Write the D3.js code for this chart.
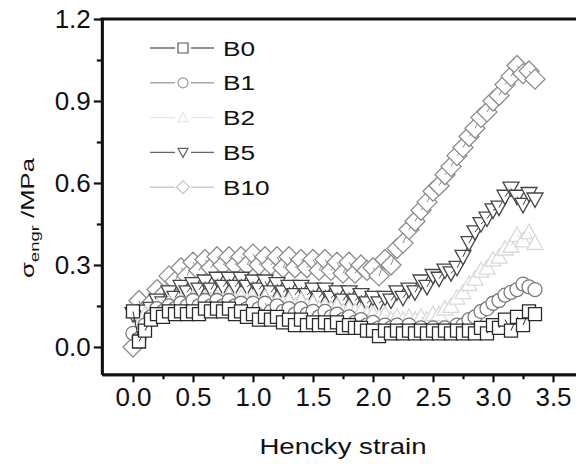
<!DOCTYPE html>
<html><head><meta charset="utf-8">
<script src="https://cdn.jsdelivr.net/npm/d3@7"></script>
<style>body{margin:0;background:#fff}svg{display:block}text{font-family:"Liberation Sans",Arial,sans-serif}</style>
</head><body><svg id="c" width="576" height="464"></svg>
<script>
const strain = [0.00,0.05,0.10,0.15,0.20,0.25,0.30,0.35,0.40,0.45,0.50,0.55,0.60,0.65,0.70,0.75,0.80,0.85,0.90,0.95,
1.00,1.05,1.10,1.15,1.20,1.25,1.30,1.35,1.40,1.45,1.50,1.55,1.60,1.65,1.70,1.75,1.80,1.85,1.90,1.95,
2.00,2.05,2.10,2.15,2.20,2.25,2.30,2.35,2.40,2.45,2.50,2.55,2.60,2.65,2.70,2.75,2.80,2.85,2.90,2.95,
3.00,3.05,3.10,3.15,3.20,3.25,3.30,3.35];
const B0 = [0.13,0.02,0.06,0.10,0.12,0.11,0.13,0.12,0.13,0.12,0.13,0.12,0.14,0.13,0.14,0.13,0.14,0.12,0.13,0.11,
0.12,0.10,0.11,0.10,0.11,0.09,0.10,0.08,0.10,0.08,0.09,0.08,0.09,0.08,0.09,0.07,0.08,0.07,0.07,0.06,
0.06,0.04,0.06,0.05,0.06,0.05,0.06,0.05,0.06,0.05,0.06,0.05,0.06,0.05,0.06,0.05,0.06,0.05,0.07,0.05,
0.08,0.07,0.10,0.06,0.11,0.08,0.13,0.12];
const B1 = [0.05,0.03,0.08,0.11,0.14,0.13,0.15,0.14,0.16,0.15,0.17,0.15,0.17,0.15,0.17,0.15,0.17,0.15,0.16,0.14,
0.16,0.14,0.16,0.13,0.15,0.13,0.14,0.12,0.14,0.12,0.13,0.11,0.13,0.11,0.12,0.10,0.11,0.09,0.10,0.08,
0.09,0.07,0.08,0.07,0.08,0.06,0.08,0.06,0.07,0.06,0.07,0.06,0.07,0.06,0.08,0.08,0.10,0.11,0.13,0.14,
0.16,0.17,0.19,0.20,0.21,0.23,0.22,0.21];
const B2 = [0.13,0.08,0.12,0.13,0.15,0.14,0.16,0.15,0.17,0.16,0.18,0.16,0.18,0.17,0.18,0.17,0.19,0.17,0.18,0.17,
0.18,0.16,0.18,0.16,0.17,0.16,0.17,0.15,0.17,0.15,0.16,0.14,0.15,0.14,0.15,0.13,0.14,0.13,0.13,0.12,
0.12,0.11,0.12,0.10,0.11,0.10,0.11,0.10,0.11,0.10,0.12,0.12,0.14,0.15,0.18,0.20,0.23,0.25,0.28,0.29,
0.32,0.33,0.36,0.37,0.41,0.39,0.42,0.38];
const B5 = [0.12,0.10,0.13,0.14,0.17,0.16,0.20,0.18,0.22,0.20,0.23,0.21,0.24,0.21,0.25,0.22,0.25,0.22,0.25,0.22,
0.24,0.21,0.24,0.20,0.23,0.20,0.22,0.19,0.22,0.19,0.21,0.18,0.21,0.18,0.20,0.17,0.20,0.17,0.19,0.16,
0.18,0.16,0.18,0.17,0.20,0.18,0.21,0.20,0.24,0.22,0.26,0.25,0.28,0.27,0.29,0.33,0.38,0.42,0.45,0.47,
0.50,0.51,0.55,0.58,0.55,0.52,0.56,0.54];
const B10 = [0.00,0.17,0.09,0.16,0.21,0.19,0.26,0.24,0.29,0.26,0.31,0.28,0.32,0.29,0.33,0.30,0.33,0.30,0.33,0.30,
0.34,0.30,0.33,0.30,0.33,0.29,0.33,0.29,0.32,0.29,0.32,0.28,0.32,0.28,0.31,0.27,0.31,0.27,0.30,0.28,
0.29,0.26,0.32,0.30,0.36,0.38,0.43,0.46,0.50,0.53,0.57,0.59,0.63,0.66,0.70,0.73,0.77,0.80,0.84,0.86,
0.90,0.92,0.96,0.99,1.03,1.00,1.01,0.98];
const seriesNames = ["B0","B1","B2","B5","B10"];
const seriesValues = [B0,B1,B2,B5,B10];
const seriesColors = ["#2a2a2a","#7a7a7a","#dadada","#454545","#8c8c8c"];
const legendColors = ["#555","#999","#e6e6e6","#666","#c4c4c4"];
const seriesSymbols = ["square","circle","triangleUp","triangleDown","diamond"];
const xTicks = [0.0,0.5,1.0,1.5,2.0,2.5,3.0,3.5];
const xMinorTicks = [0.25,0.75,1.25,1.75,2.25,2.75,3.25];
const yTicks = [0.0,0.3,0.6,0.9,1.2];
const yMinorTicks = [0.15,0.45,0.75,1.05];

const svg = d3.select("#c");
const x = d3.scaleLinear().domain([-0.26,3.7]).range([101.8,577]);
const y = d3.scaleLinear().domain([-0.1,1.2]).range([374.3,19]);

function sym(type, s){
  if(type==="square") return d3.symbol(d3.symbolSquare, s*s)();
  if(type==="circle") return d3.symbol(d3.symbolCircle, Math.PI*s*s/4)();
  if(type==="diamond"){const h=s/2; return `M0,${-h}L${h},0L0,${h}L${-h},0Z`;}
  if(type==="triangleUp"){const h=s/2; return `M0,${-h}L${h},${h*0.8}L${-h},${h*0.8}Z`;}
  if(type==="triangleDown"){const h=s/2; return `M0,${h}L${h},${-h*0.8}L${-h},${-h*0.8}Z`;}
}
const sizes = {square:13,circle:14,triangleUp:16,triangleDown:16,diamond:20};

const plot = svg.append("g");
const line = d3.line().x(d=>x(d[0])).y(d=>y(d[1]));
[4,3,2,1,0].forEach(i=>{
  const vals = seriesValues[i];
  const pts = strain.map((s,j)=>[s,vals[j]]);
  const g = plot.append("g");
  g.selectAll("g.p").data(pts).join("g").attr("class","p").each(function(d,j){
    const gg = d3.select(this);
    if(j>0) gg.append("line").attr("x1",x(pts[j-1][0])).attr("y1",y(pts[j-1][1])).attr("x2",x(d[0])).attr("y2",y(d[1]))
      .attr("stroke",seriesColors[i]).attr("stroke-width",1);
    gg.append("path").attr("transform",`translate(${x(d[0])},${y(d[1])})`)
      .attr("d",sym(seriesSymbols[i],sizes[seriesSymbols[i]]))
      .attr("fill","#fff").attr("stroke",seriesColors[i]).attr("stroke-width",1.3);
  });
});

// axes
const xAxis = svg.append("g").attr("transform","translate(0,374.3)")
  .call(d3.axisBottom(x).tickValues(xTicks).tickFormat(d3.format(".1f")).tickSizeInner(8).tickPadding(5).tickSizeOuter(0));
const xMinor = svg.append("g").attr("transform","translate(0,374.3)")
  .call(d3.axisBottom(x).tickValues(xMinorTicks).tickFormat("").tickSizeInner(5).tickSizeOuter(0));
const yAxis = svg.append("g").attr("transform","translate(101.8,0)")
  .call(d3.axisLeft(y).tickValues(yTicks).tickFormat(d3.format(".1f")).tickSizeInner(8).tickPadding(3).tickSizeOuter(0));
const yMinor = svg.append("g").attr("transform","translate(101.8,0)")
  .call(d3.axisLeft(y).tickValues(yMinorTicks).tickFormat("").tickSizeInner(5).tickSizeOuter(0));
[xAxis,xMinor,yAxis,yMinor].forEach(a=>{
  a.select(".domain").attr("stroke","#111").attr("stroke-width",2.8);
  a.selectAll(".tick line").attr("stroke","#111").attr("stroke-width",2.2);
  a.selectAll("text").attr("fill","#111").style("font-size","26px").style("font-family","'Liberation Sans',Arial,sans-serif");
});
xAxis.selectAll("text").attr("dy","0.72em");
svg.append("line").attr("x1",100.4).attr("x2",576).attr("y1",19).attr("y2",19).attr("stroke","#111").attr("stroke-width",2.8);

// x title (wide font)
svg.append("text").attr("transform","translate(343,454) scale(1.29,1)").attr("text-anchor","middle")
  .style("font-size","21.4px").attr("fill","#111").text("Hencky strain");

// y title
const yl = svg.append("text").attr("text-anchor","middle").style("font-size","18px").attr("fill","#111");
yl.append("tspan").text("σ");
yl.append("tspan").attr("dy",5).style("font-size","13px").text("engr");
yl.append("tspan").attr("dy",-5).text(" /MPa");
const yw = yl.node().getComputedTextLength();
yl.attr("transform",`translate(34,218) rotate(-90) scale(${120/yw},1)`);

// legend
const lg = svg.append("g");
seriesNames.forEach((n,i)=>{
  const ly = 48 + i*34.8;
  const c = legendColors[i];
  lg.append("line").attr("x1",150).attr("x2",175).attr("y1",ly).attr("y2",ly).attr("stroke",c).attr("stroke-width",1.3);
  lg.append("line").attr("x1",191).attr("x2",214).attr("y1",ly).attr("y2",ly).attr("stroke",c).attr("stroke-width",1.3);
  lg.append("path").attr("transform",`translate(183,${ly})`).attr("d",sym(seriesSymbols[i],i===4?13:10)).attr("fill","#fff").attr("stroke",c).attr("stroke-width",1.2);
  lg.append("text").attr("transform",`translate(223,${ly+7.5}) scale(1.28,1)`).style("font-size","20.5px").attr("fill","#111").text(n);
});
</script></body></html>
